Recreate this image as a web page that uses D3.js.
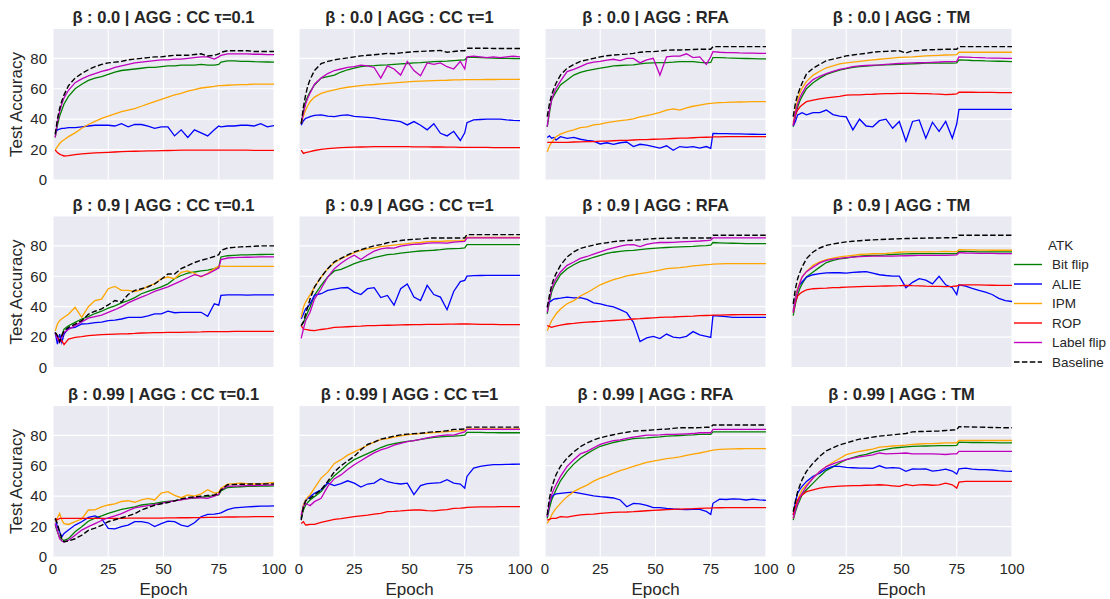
<!DOCTYPE html>
<html>
<head>
<meta charset="utf-8">
<script src="https://cdn.jsdelivr.net/npm/d3@7"></script>
<style>
  body { margin: 0; background: #fff; }
  text { font-family: "Liberation Sans", Arial, sans-serif; fill: #262626; }
</style>
</head>
<body>
<div id="chart"></div>
<script>
const epochs = [1,2,3,4,5,7,10,13,16,19,22,25,28,31,34,37,40,43,46,49,52,55,58,61,64,67,70,73,75,76,79,82,85,88,91,94,97,100];

const attacks = ["Bit flip", "ALIE", "IPM", "ROP", "Label flip", "Baseline"];
const colors = ["#008000", "#0000ff", "#ffa500", "#ff0000", "#bf00bf", "#000000"];
const betas = ["0.0", "0.9", "0.99"];
const aggs = ["CC τ=0.1", "CC τ=1", "RFA", "TM"];
const xTicks = [0, 25, 50, 75, 100];
const yTicks = [0, 20, 40, 60, 80];

// each panel: [Bit flip, ALIE, IPM, ROP, Label flip, Baseline]
const b00_cc01 = [
  [28,36,42,46,50,55,60,63,65.5,67,68,69.5,71,72,72.5,73,73.5,74,74,74.5,75,75,75.5,75.5,75.5,76,75.5,75.5,76,77.5,78.3,78.3,78,78,77.8,77.7,77.6,77.5],
  [31,33,33.5,34,34,34.5,34.5,35,35.5,36,36,36,35.5,37,35,36.5,36.5,35.5,34,35,35,29,33,28,33,31,29,33,35.5,35,35.5,35.5,36,36,35.5,37,35,35.7],
  [19.7,22,24,25.5,26.5,28.5,31,34,36.5,38.5,40.5,42,43.5,45,46,47,48.5,50,51.5,53,54.5,56,57,58.5,59.5,60.5,61,61.5,62,62,62.3,62.5,62.7,62.8,63,63,63,63],
  [19.7,18,17,16.3,15.8,16,16.7,17.2,17.5,17.8,18,18.2,18.4,18.6,18.8,18.9,19,19.1,19.2,19.3,19.4,19.5,19.6,19.6,19.7,19.7,19.7,19.7,19.7,19.7,19.7,19.6,19.6,19.6,19.5,19.5,19.5,19.5],
  [28,38,45,50,54,59,64,66.5,68.5,70,71.5,72.5,74,75,76,77,77.5,78,78.5,79,79,79.5,79.5,80,80.5,81,81,79.5,81,82,83,83,83,83,82.7,82.7,82.5,82.5],
  [30,40,47,52,56,62,67,70,72.5,74.5,76,77,77.5,78,79,79.5,80,80.5,81,81,81.5,82,82,82,82.5,83,81.5,82,83,84,85,85,85,85,84.5,84.5,84.5,84.5]
];
const b00_cc1 = [
  [37,45,51.5,55,58,62.5,67,68,69,71,72.5,73.5,74.5,75,75.2,75.5,75.7,76,76.3,76.6,77,77.2,77.5,77.8,78,78.2,78.5,78.8,79,80.7,80.7,80.5,80.3,80.2,80,80,79.9,79.8],
  [36,39,40.6,41,41.7,42.5,42.8,42,41.7,42.5,42.8,41.8,41.5,41.2,40.8,40,39.5,39,38.4,36.2,38.4,36,33,37,30.7,29,32,26,31,37.7,39.5,39.8,40,40,40,39.5,39.2,39],
  [37,42,46,49,51.5,54.5,57,58.2,59.3,60.2,61,61.6,62.1,62.5,62.8,63.2,63.6,63.9,64.2,64.5,64.8,65,65.2,65.4,65.5,65.6,65.8,65.9,66,66,66,66,66.1,66.1,66.2,66.2,66.2,66.2],
  [19.7,17.5,18,18.3,18.6,19.4,20.2,20.6,21,21.3,21.5,21.6,21.7,21.8,21.9,21.9,21.9,21.9,21.9,21.9,21.8,21.8,21.8,21.7,21.7,21.6,21.6,21.5,21.5,21.5,21.4,21.4,21.4,21.3,21.3,21.3,21.3,21.3],
  [37,44,50,54,57,63,67,70,72,73,74,74.5,75.5,75,74,67,75,73,69,78,72,68.5,77,76,77,74.5,73,78,73,81,81.5,81,80.5,81,80.5,81,81.5,81],
  [37,48,56,62,66,72,76.5,78,79,79.7,80.3,81,81.6,82,82.4,82.8,83.3,83,83.6,84,84.4,84.6,84.8,85,85.2,84,84.5,85,85,86.6,86.6,86.6,86.6,86.5,86.5,86.5,86.5,86.5]
];
const b00_rfa = [
  [35,44,52.6,55.5,58,62.5,65.8,69,70.8,72,72.8,73.5,74.3,75,75.3,75.5,75.7,76.3,76.8,77,77.2,77.2,77.5,77.9,77.9,77.8,77.3,77,77.3,80.5,80.5,80.3,80.2,80,79.9,79.8,79.7,79.6],
  [28,29,27.5,28,26.3,28.5,27.4,28,26.8,26,25.6,23.7,24.5,23.5,24.5,25,22,23.5,23,22,21,22.5,19.5,22,21.5,22,21,22,20.8,30.7,30.5,30.5,30.3,30.3,30.2,30.1,30,30],
  [18.6,22.4,24.6,26.5,28.5,30.2,31.8,33,34.5,35,36.2,36.8,37.7,38.4,39,39.5,40.2,41.5,42.4,43.3,44.5,46,46.8,46,47.5,48.5,49.3,50,50.4,50.5,50.9,51,51.2,51.3,51.4,51.5,51.5,51.5],
  [24.8,24.8,24.8,24.8,24.8,24.8,24.8,25,25.1,25.2,25.3,25.5,25.6,25.8,26,26.1,26.3,26.5,26.6,26.8,26.9,27.1,27.3,27.5,27.6,27.8,28,28.1,28.2,28.3,28.4,28.5,28.5,28.5,28.5,28.5,28.5,28.5],
  [35,46,52.6,57,60.3,65,71.3,72.8,74.5,76.5,77.5,78,78.8,79.4,78.5,80,80,77,79,80,69,81,81.5,81.5,83,80.5,81,76,81,84.4,84,83.8,83.8,83.6,83.5,83.4,83.3,83.3],
  [41.7,50,56,60,63.6,69,73.5,76,78,79,80,81,81.7,82.2,82.5,82.8,83.3,84,84.4,84.4,84.8,85.3,85.5,85.5,85.7,85.8,86,86,86,87.7,87.7,87.7,87.7,87.7,87.7,87.7,87.7,87.7]
];
const b00_tm = [
  [35,42,48,52,55,60,64,67,69.5,71,72.3,73.2,74,74.6,74.9,75.2,75.5,75.7,75.9,76,76.2,76.4,76.6,76.8,76.8,76.9,76.9,76.8,77,79,78.8,78.6,78.5,78.3,78.2,78.1,78,77.9],
  [35.5,38.4,42.8,43.5,44.3,42.8,44.3,44.3,46,43,42,41.5,33,40,35.5,35,39,40,34,38.5,25.5,38.5,39.5,27.5,38,32,38.5,27.5,37,46.5,46.5,46.5,46.5,46.5,46.5,46.5,46.5,46.5],
  [37.3,46,52.6,57,60.3,64.7,69,71.5,73.8,75,76.3,77,77.5,78,78.5,79,79.4,79.8,80.2,80.6,80.8,81,81.3,81.6,81.8,82,82.2,82.3,82.4,84,84,84,84,84,84,84,84,84],
  [36,42.8,46,48,49.3,51.5,52.6,53.3,54,54.5,55,55.8,56,56,56.3,56.4,56.6,56.8,56.8,57,57,57,56.8,56.8,56.6,56.5,56.2,56.4,56.6,57.7,57.7,57.7,57.6,57.6,57.6,57.5,57.5,57.5],
  [36,44,50,54,57,62,66,68.2,70,71.5,72.8,73.6,74.5,75,75.3,75.5,75.7,76,76.3,76.6,76.8,77,77.1,77.2,77.4,77.6,77.9,77.8,78,81,80.8,80.6,80.5,80.3,80.2,80.1,80,80],
  [41.7,50.4,56,60,63.6,69.7,73.5,76,78.5,79.5,80.5,81.6,82.2,82.8,83.3,84,84.4,84.6,84.8,85,83.5,85,85.2,85.5,85.7,85.8,86,86,86,87.7,87.7,87.7,87.7,87.7,87.7,87.7,87.7,87.7]
];
const b09_cc01 = [
  [23,20,17.6,21,25.3,27.5,29.7,31.9,33.5,35.5,37,39,40.5,42.5,44,46,48.5,50,51.5,53,55,58.4,60.5,62,62.8,63.5,64,65,66,72.7,73.5,73.8,74,74.1,74.2,74.3,74.4,74.4],
  [23,15.4,22,16.5,22,25.8,26.4,28.6,28.8,29.5,29.8,30.8,31.2,31.9,33,33,33,34,35.2,35.2,37,36,36.3,36.3,36.3,36.3,33.7,41.9,41,47.4,47.8,47.8,47.8,47.6,47.8,47.8,47.7,47.8],
  [24,28.6,30.8,32,33,35,39.6,33,40,44,45,51.8,53.3,50.7,50.7,50,51,53.5,55,58.4,59.5,58.4,62.5,63.5,62,59.5,62,65,66.7,66.7,66.5,66.5,66.5,66.5,66.5,66.5,66.5,66.5],
  [23,20,17.6,17.6,15,18.7,19.8,20.3,20.9,21.3,21.6,21.8,22,22.1,22.2,22.4,22.7,22.8,22.9,23,23.1,23.1,23.1,23.2,23.3,23.4,23.6,23.6,23.6,23.6,23.6,23.7,23.7,23.7,23.8,23.8,23.8,23.8],
  [23,19,16.5,20,23,25,27.5,30,32.5,33.5,34.5,36.3,38,40,42.5,44.5,46.3,48,50,51.5,53,55,57,59,61,60,61.5,63.9,65.4,71,72,72.2,72.4,72.5,72.6,72.7,72.7,72.7],
  [23,21,17,21,24,26.4,28.6,30.8,35,37,38.5,41.2,44,43,48,50.7,51.8,53,55,58,61.5,61.5,65,67,69,70.5,71.6,73,74.2,77,78.6,79,79.3,79.5,79.7,80,80,80]
];
const b09_cc1 = [
  [27.5,29.5,33,36.5,39.6,47.4,54,59.5,63.5,64.5,66.3,68.3,69.8,71,72.2,73.2,74.2,74.6,75.2,75.7,76.2,76.6,76.9,77.1,77.5,78,78.2,78.4,78.6,80.8,80.8,80.8,80.8,80.8,80.8,80.8,80.8,80.8],
  [32,35.2,38.5,40,41.9,47.4,48.5,50.7,51.5,52.3,52.6,49.6,48,51.8,52.5,46,47.4,41,51.8,55,46.3,44,54,48,46.3,38,50,56.5,57.3,60.1,60.4,60.5,60.6,60.6,60.6,60.6,60.6,60.6],
  [33,39.6,43,45.5,47.8,52.9,59.5,65,69,71.5,73.5,75.5,77,78,78.5,79.5,80,80.5,81,81.5,82,82.2,82.8,83,83,83.2,83.3,83.5,83.7,85.5,85.5,85.5,85.5,85.5,85.5,85.5,85.5,85.5],
  [27.5,25.3,25,24.8,24.5,24.2,25,25.6,26.4,26.6,26.8,27,27.2,27.5,27.6,27.7,27.8,27.9,28,28.1,28.2,28.2,28.3,28.4,28.4,28.5,28.5,28.6,28.6,28.6,28.5,28.4,28.3,28.3,28.2,28.2,28.2,28.2],
  [19.2,25.3,30.8,33.5,36.3,45,51.8,59.5,65,68.5,71.5,73.8,71,74,76.5,78,78.6,78.5,79.8,80.5,81,81.2,81.8,82,82,81.8,82.4,82.8,83,85.2,85.2,85.2,85.2,85.2,85.2,85.2,85.2,85.2],
  [27.5,30,35.2,40,45,52.9,59.5,65,69.5,71.8,74,76,77.5,78.8,80,80.8,82,82.8,83.5,84,84.3,84.6,85,85.2,85.2,85.2,85.2,85.2,85.2,87.4,87.4,87.4,87.4,87.4,87.4,87.4,87.4,87.4]
];
const b09_rfa = [
  [35.2,43,49.6,53.5,56.2,61,65,67.6,69.8,71,72.5,73.8,75,75.8,76.3,76.8,77,77.5,78,78.4,78.7,78.9,79.1,79.3,79.5,79.7,80,80.2,80.4,82.2,82,81.8,81.7,81.6,81.5,81.5,81.5,81.5],
  [39.6,43,44,45,45.2,45.6,46.3,45.8,46,44.8,42.5,41.9,40.7,39.8,38,36,29.7,17,19.5,20.5,19,22,20,19.5,20.5,23.6,21.5,20.5,19.8,34.1,33.8,33.5,33,33,33,33,33,33],
  [24.2,27.5,30.8,33,35.2,38.5,41.9,44,47,49.2,51.8,54.4,56.2,57.8,59,60.2,61,61.8,62.4,63.2,64,65,65.4,65.7,66.2,66.8,67.2,67.6,67.8,68,68.2,68.3,68.3,68.3,68.3,68.3,68.3,68.3],
  [27.5,27,26.4,26.8,27.2,27.8,28.6,29,29.5,29.8,30.1,30.3,30.6,30.9,31.2,31.5,31.9,32.1,32.4,32.7,33,33.1,33.2,33.4,33.6,33.8,34.1,34.2,34.3,34.4,34.5,34.6,34.7,34.8,34.8,34.8,34.8,34.8],
  [36.3,45,51.8,55.5,58.4,62.8,67.2,69.4,71.8,73,74.5,76,77.5,78.6,79.8,80.6,80.8,79.5,81,81.8,82.2,82.2,82.3,82.6,82.8,83,83.2,83.5,83.7,85.2,85.2,85.2,85.2,85.2,85.2,85.2,85.2,85.2],
  [39.6,47.4,54,58.5,61.7,67.2,72.7,76,78.3,79.5,80.5,81.5,82,82.8,83.2,83.5,83.7,84,84.4,84.7,84.9,85,85.1,85.2,85.2,85.2,85.2,85.2,85.2,87,87,87,87,87,87,87,87,87]
];
const b09_tm = [
  [34.1,41.9,47.8,52,55,59.5,62.8,66,69,70.5,71.5,72,72.8,73.3,73.5,73.7,73.8,74,74.3,74.6,74.7,74.8,74.9,74.9,74.9,74.9,74.9,74.9,74.9,76.4,76.3,76.2,76.1,76.1,76,76,76,76],
  [37.4,46.3,51.8,54.5,56.2,59.5,61,61.7,62.2,62.3,62.3,62,62.5,62.8,63,62,61,60.5,60.1,60.1,52.5,56,58.4,57.5,55,60,54.4,52.5,48,54.4,53.5,52,50.7,49.5,48,45.5,44,43.4],
  [36.3,45.2,51.8,56,59.5,63.2,67.2,69.4,71,72,72.8,73.3,73.8,74.3,74.6,74.8,74.9,75.1,75.4,75.8,76,76,76,76,76.1,76.2,76.4,76.2,76.2,77.5,77.4,77.3,77.2,77.2,77.1,77.1,77.1,77.1],
  [36.3,43,47,48.5,49.6,51.1,51.8,52,52.2,52.5,52.6,52.8,53,53.2,53.3,53.4,53.5,53.6,53.7,53.8,54,53.8,53.7,53.5,53.4,53.3,53.2,53.4,53.6,54.2,54.4,54.4,54.3,54.2,54.1,54,54,54],
  [36,44,50.5,55.5,59.5,63,66,68.8,70.4,71.2,71.8,72.2,72.6,72.9,73.1,73.2,73.3,73.3,73.3,73.4,73.5,73.6,73.7,73.8,73.8,73.8,73.8,73.9,74,75.5,75.3,75.2,75.1,75,75,74.9,74.9,74.9],
  [41.9,51.8,58.4,62.5,66,71.6,76,78.6,80.3,81.2,82,82.6,83,83.4,83.7,83.9,84.1,84.3,84.5,84.7,84.8,84.9,85,85.1,85.2,85.2,85.3,85.3,85.4,87,87,87,87,87,87,87,87,87]
];
const b099_cc01 = [
  [21,16.6,13.2,11.5,11,12.1,16.6,19.9,23.5,25.5,27,28.7,30,31.3,32.2,33,34.2,34.8,35.3,36,36.6,37.1,37.8,38.4,38.8,39.3,39.7,40.3,40.8,43.5,45.7,46,46.2,46.4,46.5,46.6,46.7,46.8],
  [24.9,19.9,16.6,13.2,15.5,17.7,21,23.2,26,27,25.2,18.8,18.5,19.9,21,23.2,23.2,22.5,20,22,23.6,23.3,21,20,22.5,26.5,28,28.2,28.7,29,31.2,32.3,32.7,33,33.2,33.4,33.5,33.6],
  [23.2,25.8,28.7,24.3,22,21.4,23.2,25,30.9,31,33,34.2,35,36.5,37,36,37.5,38.5,37.5,42,43,40.5,39,40.8,40,41.5,44.2,42,42.5,45.3,47.9,48.2,48.6,48.3,48,48.2,48.6,49],
  [25.4,24.5,25.4,25.4,25.4,25.4,25.4,25.4,25.4,25.4,25.4,25.4,25.4,25.4,25.5,25.5,25.5,25.5,25.6,25.6,25.7,25.7,25.8,25.8,25.9,25.9,26,26,26.1,26.2,26.3,26.3,26.4,26.4,26.5,26.5,26.5,26.5],
  [22,17,12.1,10.5,9.9,11,14.3,17.7,20,22,24,25.8,27,28.5,30.5,32.3,33.1,33.8,34.5,35.3,36.2,36.9,37.6,38.4,39,38.9,38.6,40,41.3,44.2,46.4,46.6,46.8,46.9,47,47.2,47.3,47.5],
  [25.4,22,16.5,12,10,10.6,12,14.3,17.5,19,20.8,23.2,24.5,25.8,27,28.5,30.9,32.5,34,35,35.8,36.9,38.2,39.1,39.5,40,40.4,40.8,41.9,44.1,47.5,47.7,47.8,47.9,48,48,48.1,48.1]
];
const b099_cc1 = [
  [25.4,30.9,34.2,36,37.5,39.7,43,48.6,53.5,57,61,64,66,68,70,72,73.5,74.5,75.3,76,76.6,77.3,78,78.6,79,79.3,79.5,79.8,80.1,81.9,81.9,81.9,81.8,81.8,81.7,81.7,81.7,81.7],
  [25.4,34,37.5,38.5,39.7,41.9,44.2,48.6,47,48.3,50.1,48.6,46,48,48.6,51.5,49.5,48.6,48,48.6,41,47,48.3,48.6,48.9,50.8,48.6,48,45.3,53,58.5,59.6,60.3,60.7,60.8,60.9,61,61.1],
  [26.5,34.2,37.5,39.5,40.8,45.3,51.9,55.8,61.5,64,67,69.1,71.3,73.5,75.5,77.2,77.9,78.8,79.7,80.3,80.8,81.1,81.5,81.8,82.1,82.4,82.8,83,83.2,84.3,84.3,84.3,84.3,84.3,84.3,84.3,84.3,84.3],
  [22.1,23.2,21,21.2,21.4,21.4,22.7,23.8,24.7,25.2,25.9,26.5,27.1,27.6,28.2,28.7,29.8,30,30.3,30.7,30.9,30.9,30.5,30.3,30.8,31.2,32,32.2,32.4,32.7,32.8,32.9,33,33,33.1,33.1,33.1,33.1],
  [27.6,33.1,35.3,34.5,33.8,36.4,38.6,46.4,51.5,54,57.5,60.7,63.3,66,68.5,70.5,71.7,73.5,74.8,75.8,76.6,77.3,78.3,79.2,79.8,80.3,80.1,81.5,82.3,83.9,83.9,83.9,83.9,83.9,83.9,83.9,83.9,83.9],
  [24.3,33.1,36.9,38,38.6,40.8,44.2,49.7,56,60,63.2,66.2,70.5,74,75.6,77.5,78.4,79.5,80.3,80.8,81.1,81.4,81.9,82.3,82.6,83,83.9,84,84.2,85.4,85.4,85.4,85.4,85.4,85.4,85.4,85.4,85.4]
];
const b099_rfa = [
  [25.4,32,37.5,41,44.2,50.1,56.3,61.1,65,68,70.5,72.8,74,75.3,76.2,77,77.9,78.2,78.4,78.7,79,79.5,79.7,79.9,80.1,80.3,80.6,80.6,80.6,82.3,82.3,82.3,82.3,82.3,82.3,82.3,82.3,82.3],
  [26.5,35.3,39.7,40.8,41.5,41.9,42.4,42.6,41.8,41,40.2,39.7,39.3,38.8,37.5,33,35.3,35,34,32.5,32.5,32,31.6,31.3,31.1,31.3,31.3,30,28,35.3,38,37.8,38.2,38,37.5,38,37.6,37.3],
  [22.1,24.3,27.6,30,32,35.3,39.7,43,45.3,47.3,49.9,51.9,53.4,55.2,56.8,58.1,59.6,60.9,62.2,63,63.8,64.7,65.2,65.8,66.8,67.6,68.4,69.3,70,70.3,70.8,71,71.1,71.2,71.3,71.3,71.3,71.3],
  [24.3,24.8,25.4,25.4,25.4,26.5,26.2,27,27.7,28,28.2,28.7,29,29.3,29.5,29.6,29.8,30.1,30.4,30.7,30.9,31.1,31.3,31.5,31.7,31.8,32,32.1,32.2,32.3,32.4,32.5,32.5,32.5,32.5,32.5,32.5,32.5],
  [26.5,35.3,40.8,44.5,47.5,53,59.6,64,67.8,69.5,71.8,74,75.4,76.5,77,78,78.8,79.5,80.1,80.1,80.3,80.6,80.6,80.8,81,81.2,81.7,81.7,81.7,83.9,83.9,83.9,83.9,83.9,83.9,83.9,83.9,83.9],
  [27.6,38.6,45.3,50,54.1,59.6,65.1,69.1,72.5,75,77,78.4,79.5,80.4,81.3,82,82.8,83,83.2,83.6,83.9,84.1,84.6,85,85,85,85.1,85.3,85.4,86.8,86.8,86.8,86.8,86.8,86.8,86.8,86.8,86.8]
];
const b099_tm = [
  [24.3,29.8,34.2,37.5,40.8,44.2,48.6,53,57,59.3,61.8,64,65.3,66.6,67.5,68.8,70,70.8,71.6,72,72.4,72.8,72.9,73,73.1,73.2,73.3,73.3,73.4,75.5,75.4,75.3,75.3,75.2,75.2,75.1,75.1,75.1],
  [27.6,36.4,41.9,44.5,46.4,49.7,53,55.2,58,59.6,59.6,58.9,58.7,58.5,58.5,58.3,60,58.5,58.8,58.5,56.3,58,57.8,58,56.5,57,57.8,56.5,54.5,58,58.5,57.8,57.5,57.5,57.2,56.8,56.5,56.3],
  [25.4,33.1,37.5,41,44.2,47.5,51.9,56.3,59.5,62.3,64.8,67.3,68.4,69.5,70.2,71,72.2,72.6,73,73.3,73.6,74,74.3,74.5,74.6,74.8,75.1,75.1,75.1,76.6,76.6,76.6,76.6,76.6,76.6,76.6,76.6,76.6],
  [27.6,33.1,37.5,39.5,40.8,43,44.2,45.3,45.9,46.3,46.6,46.8,46.9,47,47.2,47.3,47.5,47.2,46.8,46.4,47.8,47,47.4,47.5,47.2,47.4,48.6,47.5,45.3,49.2,49.7,49.7,49.7,49.7,49.7,49.7,49.7,49.7],
  [25.4,30.9,35.3,39,41.9,46.4,51.9,56.3,59.5,61.2,62.8,64,65,65.9,66.5,67.2,68.4,67.8,68,68.2,68.4,67.8,67.8,67.8,67.8,67.6,67.4,67.8,67.9,69.5,69.5,69.5,69.5,69.5,69.5,69.5,69.5,69.5],
  [29.8,36.4,43,47,50.8,56.3,61.8,66.2,69.8,71.8,73.7,75,76.3,77.5,78.1,78.8,79.5,79.9,80.3,80.8,81.2,82.3,82.5,82.6,82.7,82.9,83.2,83.5,83.6,85.7,85.6,85.5,85.4,85.3,85.2,85.1,85,85]
];

const panels = [
  [b00_cc01, b00_cc1, b00_rfa, b00_tm],
  [b09_cc01, b09_cc1, b09_rfa, b09_tm],
  [b099_cc01, b099_cc1, b099_rfa, b099_tm]
];

const width = 1110, height = 599;
const colLeft = [53, 299, 545, 791];
const rowTop = [29, 216.5, 406];
const pw = 221, ph = 151;

const x = d3.scaleLinear().domain([0, 100]).range([0, pw]);
const y = d3.scaleLinear().domain([0, 99.3]).range([ph, 0]);

const line = d3.line()
  .x(function(d, i) { return x(epochs[i]); })
  .y(function(d) { return y(d); });

const svg = d3.select("#chart")
  .append("svg")
  .attr("width", width)
  .attr("height", height);

panels.forEach(function(row, r) {
  row.forEach(function(series, c) {
    const g = svg.append("g")
      .attr("transform", "translate(" + colLeft[c] + "," + rowTop[r] + ")");

    g.append("rect")
      .attr("width", pw)
      .attr("height", ph)
      .attr("fill", "#eaeaf2");

    // grid
    g.selectAll(".gx").data(xTicks).enter().append("line")
      .attr("x1", d => x(d)).attr("x2", d => x(d))
      .attr("y1", 0).attr("y2", ph)
      .attr("stroke", "#fff").attr("stroke-width", 1.1);
    g.selectAll(".gy").data(yTicks).enter().append("line")
      .attr("x1", 0).attr("x2", pw)
      .attr("y1", d => y(d)).attr("y2", d => y(d))
      .attr("stroke", "#fff").attr("stroke-width", 1.1);

    const clip = "clip" + r + c;
    g.append("clipPath").attr("id", clip)
      .append("rect").attr("width", pw).attr("height", ph);

    g.append("g").attr("clip-path", "url(#" + clip + ")")
      .selectAll("path")
      .data(series)
      .enter()
      .append("path")
      .attr("d", line)
      .attr("fill", "none")
      .attr("stroke", (d, i) => colors[i])
      .attr("stroke-width", (d, i) => i === 5 ? 1.4 : 1.3)
      .attr("stroke-dasharray", (d, i) => i === 5 ? "5.5,2.4" : null);

    // title
    g.append("text")
      .attr("x", pw / 2)
      .attr("y", -6)
      .attr("text-anchor", "middle")
      .style("font-size", "16.5px")
      .style("font-weight", "bold")
      .text("β : " + betas[r] + " | AGG : " + aggs[c]);

    if (c === 0) {
      g.selectAll(".yt").data(yTicks).enter().append("text")
        .attr("x", -6)
        .attr("y", d => y(d))
        .attr("dy", "0.35em")
        .attr("text-anchor", "end")
        .style("font-size", "15px")
        .text(d => d);
      g.append("text")
        .attr("transform", "translate(-31," + (ph / 2) + ") rotate(-90)")
        .attr("text-anchor", "middle")
        .style("font-size", "17px")
        .text("Test Accuracy");
    }
    if (r === 2) {
      g.selectAll(".xt").data(xTicks).enter().append("text")
        .attr("x", d => x(d))
        .attr("y", ph + 17)
        .attr("text-anchor", "middle")
        .style("font-size", "15px")
        .text(d => d);
      g.append("text")
        .attr("x", pw / 2)
        .attr("y", ph + 38)
        .attr("text-anchor", "middle")
        .style("font-size", "17px")
        .text("Epoch");
    }
  });
});

// legend
const legend = svg.append("g").attr("transform", "translate(1014,245)");
legend.append("text")
  .attr("x", 34).attr("y", 0)
  .attr("dy", "0.35em")
  .style("font-size", "13.5px")
  .text("ATK");
const items = legend.selectAll(".item")
  .data(attacks)
  .enter()
  .append("g")
  .attr("transform", (d, i) => "translate(0," + (19.5 * (i + 1)) + ")");
items.append("line")
  .attr("x1", 0).attr("x2", 28)
  .attr("stroke", (d, i) => colors[i])
  .attr("stroke-width", 1.4)
  .attr("stroke-dasharray", (d, i) => i === 5 ? "5.5,2.4" : null);
items.append("text")
  .attr("x", 38)
  .attr("dy", "0.35em")
  .style("font-size", "13.5px")
  .text(d => d);
</script>
</body>
</html>
